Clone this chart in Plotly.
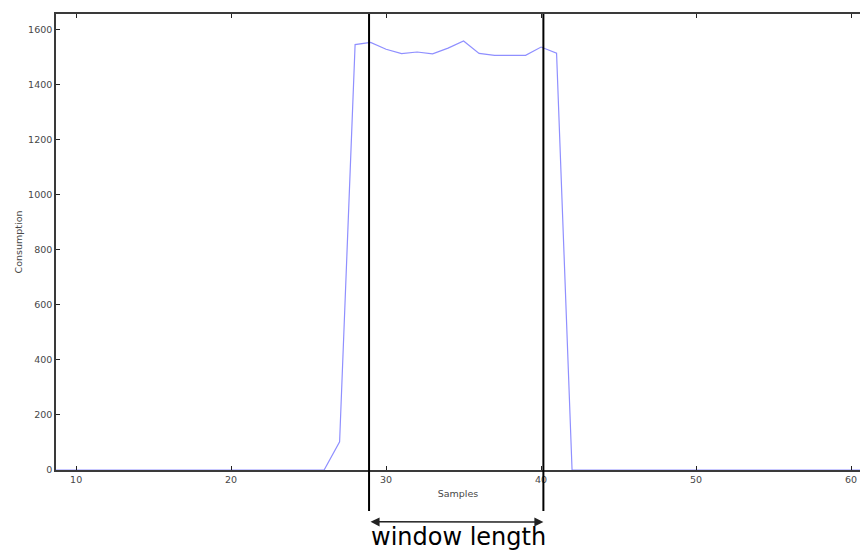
import plotly.graph_objects as go

samples = list(range(5, 62))
consumption = [0, 0, 0, 0, 0, 0, 0, 0, 0, 0,          # 5-14
               0, 0, 0, 0, 0, 0, 0, 0, 0, 0,          # 15-24
               0, 0, 102, 1545, 1553, 1528, 1512, 1518, 1511, 1532,  # 25-34
               1558, 1513, 1506, 1506, 1506, 1536, 1514, 0, 0, 0,    # 35-44
               0, 0, 0, 0, 0, 0, 0, 0, 0, 0,          # 45-54
               0, 0, 0, 0, 0, 0, 0]                   # 55-61

window_start = 28.9
window_end = 40.15
x_ticks = [10, 20, 30, 40, 50, 60]
y_ticks = [0, 200, 400, 600, 800, 1000, 1200, 1400, 1600]

fig = go.Figure()
fig.add_trace(go.Scatter(
    x=samples, y=consumption, mode="lines",
    line=dict(color="#8f8fff", width=1.2), showlegend=False, hoverinfo="skip"))

axis_common = dict(
    showline=True, linecolor="#3a3a3a", linewidth=1.6,
    ticks="inside", ticklen=4, tickwidth=1.2, tickcolor="#222",
    showgrid=False, zeroline=False, automargin=False,
    tickfont=dict(family="DejaVu Sans", size=9.5, color="#474747"),
)

fig.update_layout(
    width=860, height=554,
    margin=dict(l=56, r=0, t=14, b=84),
    paper_bgcolor="white", plot_bgcolor="white",
    xaxis=dict(range=[8.7, 60.58], tickvals=x_ticks, mirror="ticks",
               title=dict(text="Samples", font=dict(family="DejaVu Sans", size=9.5, color="#474747"), standoff=6),
               **axis_common),
    yaxis=dict(range=[0, 1656], tickvals=y_ticks, mirror=False,
               title=dict(text="Consumption", font=dict(family="DejaVu Sans", size=9.5, color="#474747"), standoff=4),
               **axis_common),
)

for xv in (window_start, window_end):
    fig.add_shape(type="line", xref="x", yref="paper", x0=xv, x1=xv,
                  y0=-0.09, y1=1.0, line=dict(color="black", width=2))

fig.add_annotation(xref="x", yref="paper", x=window_end, y=-0.114,
                   ax=window_start, ay=-0.114, axref="x", ayref="pixel",
                   showarrow=True, arrowhead=2, arrowside="end+start",
                   arrowsize=1.2, arrowwidth=1.5, arrowcolor="#222", text="")
fig.add_annotation(xref="x", yref="paper", x=(window_start + window_end) / 2 + 0.15,
                   y=-0.147, text="window length", showarrow=False,
                   font=dict(family="DejaVu Sans", size=24, color="black"),
                   yanchor="middle")

fig.write_html("out.html", config={"displayModeBar": False},
               post_script="document.body.style.margin='0';document.body.style.overflow='hidden';")
